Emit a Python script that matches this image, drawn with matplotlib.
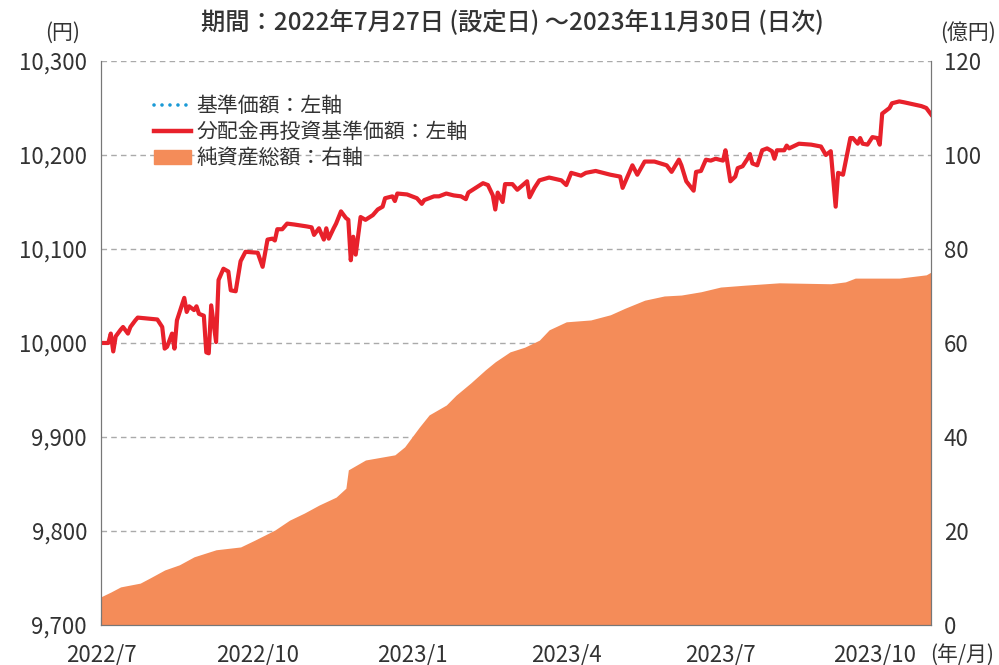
import matplotlib.pyplot as plt
from matplotlib.lines import Line2D
from matplotlib.patches import Patch

plt.rcParams['font.family'] = ['Noto Sans CJK JP', 'DejaVu Sans']

# business-day index (0 = 2022/7/27, 339 = 2023/11/30) and NAV (yen)
nav_day = [0, 3, 4, 5, 6, 8, 9, 11, 12, 14, 15, 19, 23, 25, 26, 27, 29, 30, 31, 32,
           34, 35, 36, 38, 39, 40, 42, 43, 44, 45, 47, 48, 50, 52, 53, 55, 57, 59, 64, 66,
           68, 70, 71, 72, 74, 76, 79, 84, 86, 87, 89, 91, 92, 93, 95, 96, 98, 100, 101, 102,
           103, 104, 106, 108, 111, 113, 115, 116, 119, 120, 121, 125, 129, 131, 132, 136, 138, 141, 144, 147,
           149, 150, 153, 156, 158, 160, 161, 162, 164, 165, 168, 170, 174, 175, 177, 179, 183, 188, 190, 192,
           196, 198, 202, 208, 212, 213, 215, 217, 219, 222, 226, 231, 233, 236, 237, 239, 242, 243, 245, 247,
           249, 251, 254, 255, 257, 259, 260, 262, 264, 265, 266, 268, 270, 272, 274, 275, 276, 279, 280, 281,
           285, 290, 294, 296, 298, 300, 301, 303, 305, 306, 307, 309, 310, 311, 313, 315, 317, 318, 319, 321,
           322, 323, 326, 328, 335, 337, 339]
nav = [10000, 10000, 10010, 9991, 10007, 10014, 10017, 10010, 10017, 10024, 10027, 10026, 10025, 10017, 9994, 9996, 10010, 9994, 10024, 10032,
       10048, 10033, 10039, 10035, 10039, 10031, 10029, 9990, 9989, 10040, 10001, 10067, 10079, 10076, 10056, 10055, 10087, 10097, 10096, 10081,
       10110, 10111, 10109, 10121, 10121, 10127, 10126, 10124, 10123, 10115, 10122, 10110, 10122, 10111, 10122, 10127, 10140, 10133, 10131, 10088,
       10113, 10094, 10134, 10131, 10136, 10142, 10145, 10154, 10156, 10151, 10159, 10158, 10154, 10148, 10152, 10156, 10156, 10159, 10157, 10156,
       10153, 10160, 10165, 10170, 10168, 10157, 10142, 10160, 10150, 10169, 10169, 10163, 10172, 10155, 10165, 10173, 10176, 10173, 10168, 10181,
       10178, 10181, 10183, 10179, 10177, 10165, 10177, 10189, 10179, 10193, 10193, 10189, 10182, 10195, 10189, 10172, 10162, 10182, 10183, 10195,
       10194, 10196, 10194, 10205, 10172, 10177, 10186, 10188, 10196, 10201, 10191, 10189, 10205, 10207, 10204, 10196, 10205, 10205, 10210, 10207,
       10212, 10211, 10209, 10200, 10204, 10145, 10181, 10179, 10205, 10218, 10218, 10212, 10218, 10212, 10211, 10219, 10218, 10211, 10244, 10248,
       10250, 10255, 10257, 10256, 10252, 10250, 10243]

# net assets (100 million yen)
aum_day = [0, 4, 8, 16, 20, 26, 32, 38, 47, 57, 63, 71, 77, 83, 89, 96, 100, 101, 108, 120,
           124, 130, 134, 141, 145, 151, 157, 161, 167, 173, 179, 183, 190, 200, 208, 214, 222, 230, 237, 245,
           253, 263, 277, 298, 304, 308, 326, 337, 339]
aum = [6.0, 7.0, 8.1, 8.9, 10.0, 11.7, 12.8, 14.5, 16.0, 16.6, 18.1, 20.2, 22.3, 23.8, 25.5, 27.2, 29.1, 33.0, 35.1, 36.2,
       37.9, 42.1, 44.7, 46.8, 48.9, 51.5, 54.3, 56.0, 58.1, 59.1, 60.6, 62.8, 64.5, 64.9, 66.0, 67.4, 69.1, 70.0, 70.2, 70.9,
       71.9, 72.3, 72.8, 72.6, 73.0, 73.8, 73.8, 74.5, 75.1]

tick_pos = [0, 64, 127, 190, 253, 316]
tick_labels = ['2022/7', '2022/10', '2023/1', '2023/4', '2023/7', '2023/10']

red = '#e8212b'
orange = '#f48c59'
blue = '#1a9ad6'
txt = '#333333'

fig = plt.figure(figsize=(9.99, 6.65), dpi=100)
ax2 = fig.add_axes([0.1011, 0.0602, 0.831, 0.8481])
ax = ax2.twinx()

ax2.fill_between(aum_day, aum, 0, color=orange, linewidth=0, zorder=2)
ax2.set_ylim(0, 120)
ax2.set_yticks(range(0, 121, 20))
ax2.yaxis.tick_right()
ax2.grid(axis='y', color='#aaaaaa', linestyle=(0, (4, 3)), linewidth=1, zorder=1)
ax2.set_axisbelow(True)

ax.plot(nav_day, nav, color=blue, linestyle=':', linewidth=2)
ax.plot(nav_day, nav, color=red, linewidth=3, solid_joinstyle='round')
ax.set_ylim(9700, 10300)
ax.set_yticks(range(9700, 10301, 100))
ax.yaxis.tick_left()
ax.set_yticklabels([f'{v:,}' for v in range(9700, 10301, 100)])
ax.set_xlim(0, 339)
ax2.set_xticks(tick_pos)
ax2.set_xticklabels(tick_labels)

for a in (ax, ax2):
    for s in a.spines.values():
        s.set_color('#777777')
    a.spines['top'].set_visible(False)
ax.tick_params(axis='y', length=0, pad=10, labelsize=16, labelcolor=txt)
ax2.tick_params(axis='y', length=0, pad=9, labelsize=16, labelcolor=txt)
ax2.tick_params(axis='x', direction='in', length=6, color='#777777', pad=13, labelsize=16, labelcolor=txt)

fig.text(0.513, 0.966, '期間：2022年7月27日 (設定日) ～2023年11月30日 (日次)', ha='center', va='center',
         fontsize=17.5, color=txt, fontweight='medium')
fig.text(0.063, 0.95, '(円)', ha='center', va='center', fontsize=15, color=txt)
fig.text(0.969, 0.95, '(億円)', ha='center', va='center', fontsize=15, color=txt)
fig.text(0.963, 0.015, '(年/月)', ha='center', va='center', fontsize=15, color=txt)

handles = [Line2D([], [], color=blue, linestyle=(0, (0.01, 2.2)), linewidth=2.6, dash_capstyle='round'),
           Line2D([], [], color=red, linewidth=3.2),
           Patch(color=orange)]
labels = ['基準価額：左軸', '分配金再投資基準価額：左軸', '純資産総額：右軸']
ax.legend(handles, labels, loc='upper left', bbox_to_anchor=(0.041, 0.973), frameon=False,
          fontsize=15, labelcolor=txt, handlelength=1.8, handletextpad=0.25, labelspacing=0.2)

fig.savefig('out.png', dpi=100)
